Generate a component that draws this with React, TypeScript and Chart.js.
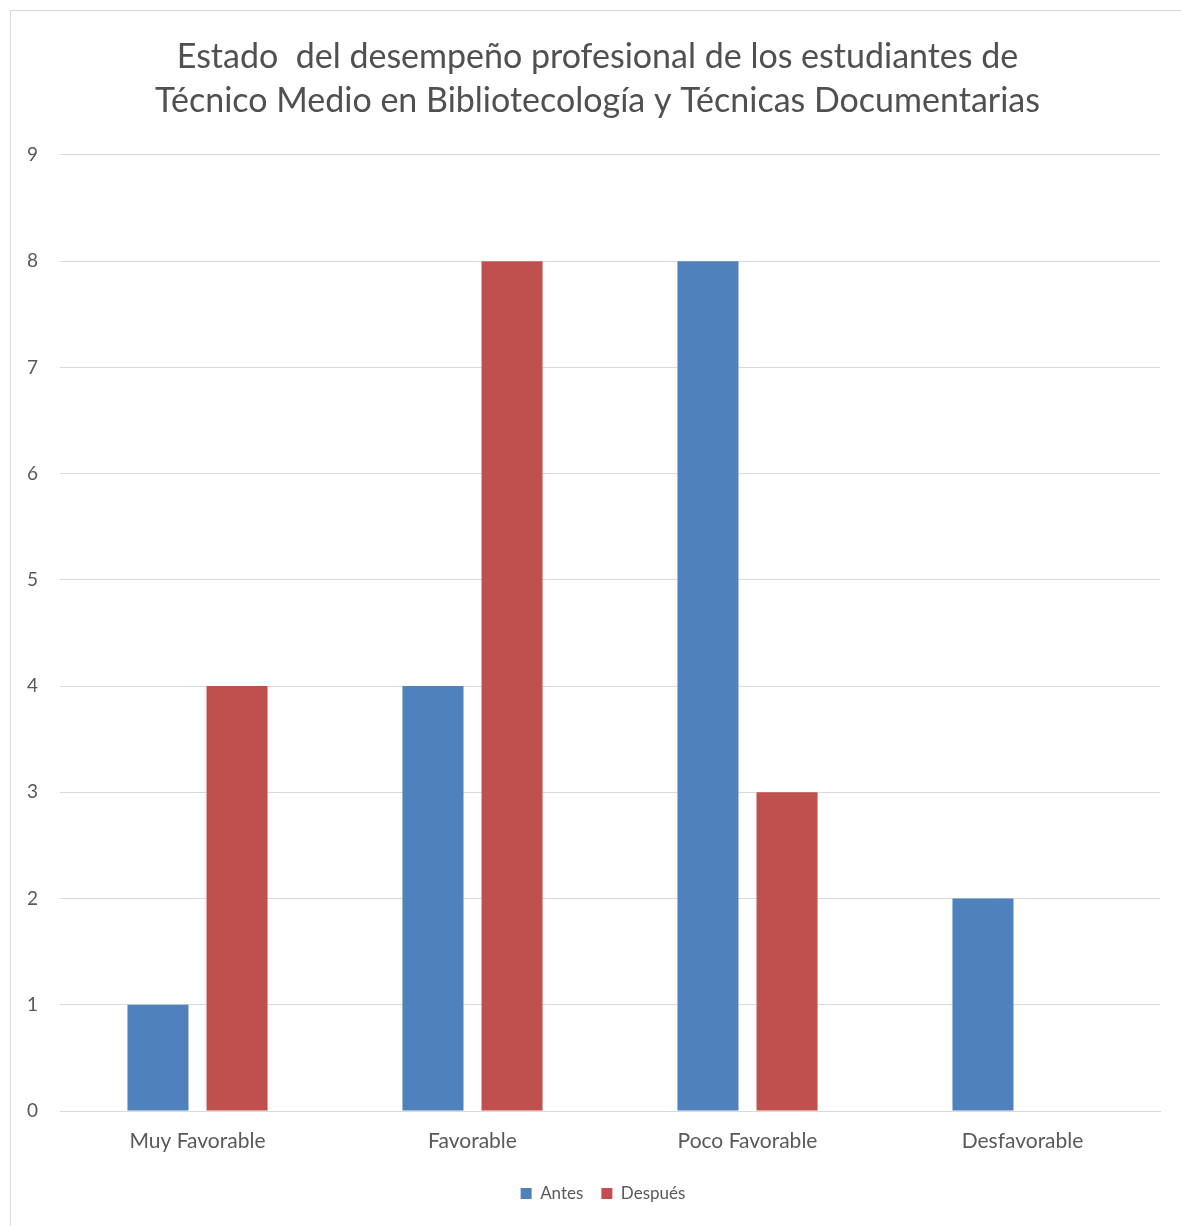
import React, { useEffect, useRef } from "react";
import { Chart, registerables } from "chart.js";

Chart.register(...registerables);

const categories = ["Muy Favorable", "Favorable", "Poco Favorable", "Desfavorable"];
const antes = [1, 4, 8, 2];
const despues = [4, 8, 3, 0];
const titleLines = [
  "Estado  del desempeño profesional de los estudiantes de",
  "Técnico Medio en Bibliotecología y Técnicas Documentarias",
];
const yTicks = [0, 1, 2, 3, 4, 5, 6, 7, 8, 9];

const FONT = "Lato, 'Open Sans', sans-serif";

const recenterPlugin = {
  id: "recenter",
  afterLayout(chart: any) {
    if (chart.titleBlock) {
      chart.titleBlock.left = 10;
      chart.titleBlock.right = 1185;
    }
    if (chart.legend) {
      const w = chart.legend.right - chart.legend.left;
      const c = 603;
      chart.legend.left = c - w / 2;
      chart.legend.right = c + w / 2;
    }
  },
};

export default function App() {
  const ref = useRef<HTMLCanvasElement | null>(null);

  useEffect(() => {
    document.body.style.margin = "0";
    const ctx = ref.current;
    if (!ctx) return;
    const chart = new Chart(ctx, {
      type: "bar",
      data: {
        labels: categories,
        datasets: [
          {
            label: "Antes",
            data: antes,
            backgroundColor: "#4F81BD",
            barPercentage: 0.772,
            categoryPercentage: 0.575,
          },
          {
            label: "Después",
            data: despues,
            backgroundColor: "#C0504D",
            barPercentage: 0.772,
            categoryPercentage: 0.575,
          },
        ],
      },
      options: {
        responsive: false,
        animation: false,
        layout: { padding: { left: 0, right: 21, top: 0, bottom: 14 } },
        plugins: {
          title: {
            display: true,
            text: titleLines,
            color: "#505050",
            font: { family: FONT, size: 34, weight: "normal", lineHeight: 1.294 },
            padding: { top: 35, bottom: 32 },
          },
          legend: {
            position: "bottom",
            labels: {
              color: "#595959",
              font: { family: FONT, size: 17 },
              boxWidth: 11,
              boxHeight: 11,
              padding: 18,
            },
          },
          tooltip: { enabled: false },
        },
        scales: {
          x: {
            afterFit: (s: any) => {
              s.height = 56;
            },
            grid: { display: false, drawTicks: false },
            border: { display: true, color: "#D9D9D9", width: 1 },
            ticks: { color: "#595959", font: { family: FONT, size: 21 }, padding: 18 },
          },
          y: {
            min: 0,
            max: 9,
            afterFit: (s: any) => {
              s.width = 60;
            },
            afterBuildTicks: (s: any) => {
              s.ticks = yTicks.map((v) => ({ value: v }));
            },
            grid: { color: "#D9D9D9", drawTicks: false },
            border: { display: false },
            ticks: { color: "#595959", font: { family: FONT, size: 19 }, padding: 22 },
          },
        },
      },
      plugins: [recenterPlugin],
    });
    return () => chart.destroy();
  }, []);

  return (
    <div style={{ position: "relative", width: 1181, height: 1226, background: "#fff", overflow: "hidden" }}>
      <canvas ref={ref} width={1181} height={1226} style={{ position: "absolute", left: 0, top: 0 }} />
      <div
        style={{
          position: "absolute",
          left: 10,
          top: 10,
          width: 1300,
          height: 1400,
          border: "1px solid #D9D9D9",
          pointerEvents: "none",
        }}
      />
    </div>
  );
}
